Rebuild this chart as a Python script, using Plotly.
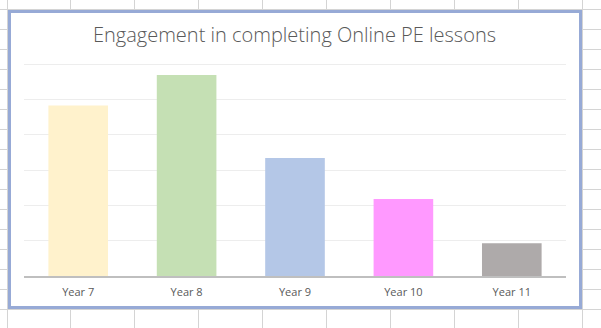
import plotly.graph_objects as go

categories = ["Year 7", "Year 8", "Year 9", "Year 10", "Year 11"]
values = [48.3, 56.9, 33.4, 21.8, 9.3]
bar_colors = ["#fff2cc", "#c5e0b4", "#b4c7e7", "#ff99ff", "#aeaaaa"]
title_text = "Engagement in completing Online PE lessons"

W, H = 601, 328
ML, MR, MT, MB = 24, 35, 63, 52
PW, PH = W - ML - MR, H - MT - MB


def px_x(px):
    return (px - ML) / PW


def px_y(py):
    return (H - MB - py) / PH


fig = go.Figure(
    go.Bar(
        x=categories,
        y=values,
        marker=dict(color=bar_colors, line=dict(width=0)),
        hoverinfo="skip",
    )
)

shapes = []
# spreadsheet cell grid in background
grid_col = "#d4d4d4"
for cx in [7, 70, 134, 198, 262, 326, 390, 454, 518, 582]:
    shapes.append(dict(type="line", xref="paper", yref="paper", layer="below",
                       x0=px_x(cx + 0.5), x1=px_x(cx + 0.5), y0=px_y(0), y1=px_y(H),
                       line=dict(color=grid_col, width=1)))
for ry in range(9, H + 1, 20):
    shapes.append(dict(type="line", xref="paper", yref="paper", layer="below",
                       x0=px_x(0), x1=px_x(W), y0=px_y(ry + 0.5), y1=px_y(ry + 0.5),
                       line=dict(color=grid_col, width=1)))
# chart area with blue border
shapes.append(dict(type="rect", xref="paper", yref="paper", layer="below",
                   x0=px_x(9.5), x1=px_x(580.5), y0=px_y(307.5), y1=px_y(11.5),
                   fillcolor="white", line=dict(color="#97aad6", width=3)))

fig.update_layout(
    width=W, height=H,
    margin=dict(l=ML, r=MR, t=MT, b=MB),
    paper_bgcolor="white",
    plot_bgcolor="rgba(0,0,0,0)",
    showlegend=False,
    bargap=0.45,
    shapes=shapes,
    title=dict(text=title_text, x=px_x(294.5), xref="paper", xanchor="center",
               y=1 - 35 / H, yanchor="middle",
               font=dict(family="Open Sans", size=20, color="#595959", weight=300)),
    font=dict(family="Open Sans", color="#595959"),
)
fig.update_xaxes(
    showline=True, linecolor="#bfbfbf", linewidth=2,
    ticks="outside", ticklen=5, tickcolor="rgba(0,0,0,0)",
    tickfont=dict(family="Open Sans", size=11, color="#595959"),
    showgrid=False,
)
fig.update_yaxes(
    range=[0, 60.3], dtick=10, showticklabels=False,
    showgrid=True, gridcolor="#ededed", gridwidth=1,
    zeroline=False, showline=False,
)

fig.write_html("out.html")
